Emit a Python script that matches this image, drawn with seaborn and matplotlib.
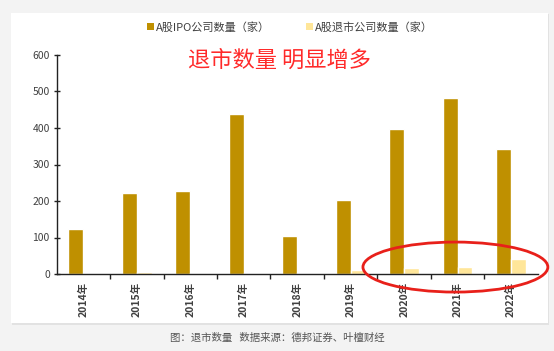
import matplotlib
matplotlib.use("Agg")
import matplotlib.pyplot as plt
from matplotlib.patches import Ellipse, FancyBboxPatch
from matplotlib.ticker import FixedLocator
import seaborn as sns
import pandas as pd

years = ["2014年", "2015年", "2016年", "2017年", "2018年", "2019年", "2020年", "2021年", "2022年"]
ipo_counts = [124, 223, 227, 437, 105, 203, 396, 482, 343]
delist_counts = [1, 6, 2, 4, 4, 10, 16, 20, 41]
series_names = ["A股IPO公司数量（家）", "A股退市公司数量（家）"]
colors = ["#BF9000", "#FFE699"]

df = pd.DataFrame({
    "year": years * 2,
    "value": ipo_counts + delist_counts,
    "series": [series_names[0]] * len(years) + [series_names[1]] * len(years),
})

sns.set_theme(style="white")
plt.rcParams["font.family"] = ["Noto Sans CJK SC", "DejaVu Sans"]

W, H = 554, 351
fig = plt.figure(figsize=(W / 100, H / 100), dpi=100, facecolor="#F3F3F3")

# white card with a soft shadow
shadow = FancyBboxPatch((12 / W, 1 - 325 / H), 537 / W, 311 / H,
                        boxstyle="square,pad=0", transform=fig.transFigure,
                        facecolor="#E2E2E2", edgecolor="none", zorder=-2)
card = FancyBboxPatch((11 / W, 1 - 323 / H), 537 / W, 310 / H,
                      boxstyle="square,pad=0", transform=fig.transFigure,
                      facecolor="white", edgecolor="none", zorder=-1)
fig.patches.extend([shadow, card])

left, right = 56.7 / W, 537.7 / W
bottom, top = 1 - 274 / H, 1 - 55 / H
ax = fig.add_axes([left, bottom, right - left, top - bottom])
ax.set_facecolor("none")

sns.barplot(data=df, x="year", y="value", hue="series", palette=colors,
            width=0.56, gap=0, ax=ax, legend=False, saturation=1)

ax.set_xlim(-0.5, len(years) - 0.5)
ax.set_ylim(0, 600)
ax.set_yticks(range(0, 601, 100))
ax.set_xlabel("")
ax.set_ylabel("")
for s in ["top", "right"]:
    ax.spines[s].set_visible(False)
for s in ["left", "bottom"]:
    ax.spines[s].set_color("#222222")
    ax.spines[s].set_linewidth(1.0)

ax.tick_params(axis="y", which="major", direction="inout", length=4, width=1,
               color="#222222", labelsize=7.5, labelcolor="#404040", pad=3, left=True)
ax.tick_params(axis="x", which="major", length=0, labelsize=7.5,
               labelcolor="#404040", pad=6, labelrotation=90, bottom=True)
ax.xaxis.set_minor_locator(FixedLocator([i + 0.5 for i in range(len(years) - 1)]))
ax.tick_params(axis="x", which="minor", direction="out", length=3.5, width=1,
               color="#222222", bottom=True)
for lbl in ax.get_xticklabels():
    lbl.set_fontweight("bold")

# legend
handles = [plt.Rectangle((0, 0), 1, 1, facecolor=c, edgecolor="none") for c in colors]
fig.legend(handles, series_names, loc="center", bbox_to_anchor=(290 / W, 1 - 27 / H),
           ncol=2, frameon=False, fontsize=8, handlelength=0.6, handleheight=0.6,
           handletextpad=0.2, columnspacing=3.2, labelcolor="#404040")

# red headline
fig.text(279 / W, 1 - 60 / H, "退市数量 明显增多", color="#FF2A2A", fontsize=16,
         ha="center", va="center")

# red ellipse highlight
ell = Ellipse((6.96, 19), width=3.46, height=137, angle=0, fill=False,
              edgecolor="#E8201A", linewidth=2, clip_on=False, zorder=5)
ax.add_patch(ell)

# caption
fig.text(277 / W, 1 - 338 / H, "图：退市数量   数据来源：德邦证券、叶檀财经",
         color="#555555", fontsize=7.5, ha="center", va="center")

fig.savefig("out.png", dpi=100, facecolor=fig.get_facecolor())
